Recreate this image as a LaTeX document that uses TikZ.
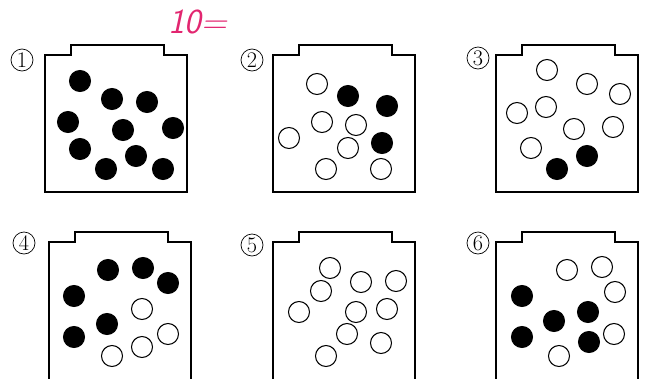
\documentclass[tikz,border=0pt]{standalone}
\usepackage{fontspec}
\definecolor{pen}{RGB}{226,38,112}
\begin{document}
\begin{tikzpicture}[x=0.3mm, y=-0.3mm,
	jarline/.style={line width=1.1pt, line join=miter},
	ball/.style={circle, draw, line width=0.9pt, minimum size=6.3mm, inner sep=0pt},
	full/.style={ball, fill=black},
	empty/.style={ball, fill=white},
	num/.style={circle, draw, line width=0.6pt, minimum size=6.6mm, inner sep=0pt, font=\fontsize{19}{19}\selectfont},
	jar/.pic={\draw[jarline] (0,#1) -- (0,0) -- (26,0) -- (26,-10) -- (119,-10) -- (119,0) -- (142,0) -- (142,#1) -- cycle;}]
	\useasboundingbox (0,0) rectangle (645,378);
	\clip (0,0) rectangle (645,378);
	% jars
	\pic at (45,55) {jar=137};
	\pic at (273,55) {jar=137};
	\pic at (496,55) {jar=137};
	\pic at (49,242) {jar=150};
	\pic at (273,242) {jar=150};
	\pic at (496,242) {jar=150};
	% numbers
	\node[num] (n1) at (22,60) {1};
	\node[num] (n2) at (252,60) {2};
	\node[num] (n3) at (478,58) {3};
	\node[num] (n4) at (24,243) {4};
	\node[num] (n5) at (252,245) {5};
	\node[num] (n6) at (478,243) {6};
	% balls
	\foreach \x/\y [count=\i] in {80/81,112/99,147/102,68/122,123/130,173/128,80/149,136/156,106/169,163/169}
		\node[full] (a\i) at (\x,\y) {};
	\foreach \x/\y [count=\i] in {317/84,322/122,356/125,289/138,348/148,326/169,381/169}
		\node[empty] (b\i) at (\x,\y) {};
	\foreach \x/\y [count=\i] in {348/96,387/106,382/143}
		\node[full] (bb\i) at (\x,\y) {};
	\foreach \x/\y [count=\i] in {547/70,587/84,620/94,517/113,546/107,574/129,613/127,531/148}
		\node[empty] (c\i) at (\x,\y) {};
	\foreach \x/\y [count=\i] in {587/156,557/169}
		\node[full] (cc\i) at (\x,\y) {};
	\foreach \x/\y [count=\i] in {108/270,143/268,168/283,74/296,107/324,74/337}
		\node[full] (d\i) at (\x,\y) {};
	\foreach \x/\y [count=\i] in {142/309,168/334,142/347,112/356}
		\node[empty] (dd\i) at (\x,\y) {};
	\foreach \x/\y [count=\i] in {330/268,361/282,396/281,321/291,299/312,356/312,387/309,347/334,381/343,326/356}
		\node[empty] (e\i) at (\x,\y) {};
	\foreach \x/\y [count=\i] in {567/270,602/267,615/292,614/334,559/356}
		\node[empty] (f\i) at (\x,\y) {};
	\foreach \x/\y [count=\i] in {522/296,588/312,554/321,522/337,589/342}
		\node[full] (ff\i) at (\x,\y) {};
	% note
	\node[text=pen, font=\sffamily\itshape\fontsize{30}{30}\selectfont, anchor=west] (note) at (164,22) {10=};
\end{tikzpicture}
\end{document}
